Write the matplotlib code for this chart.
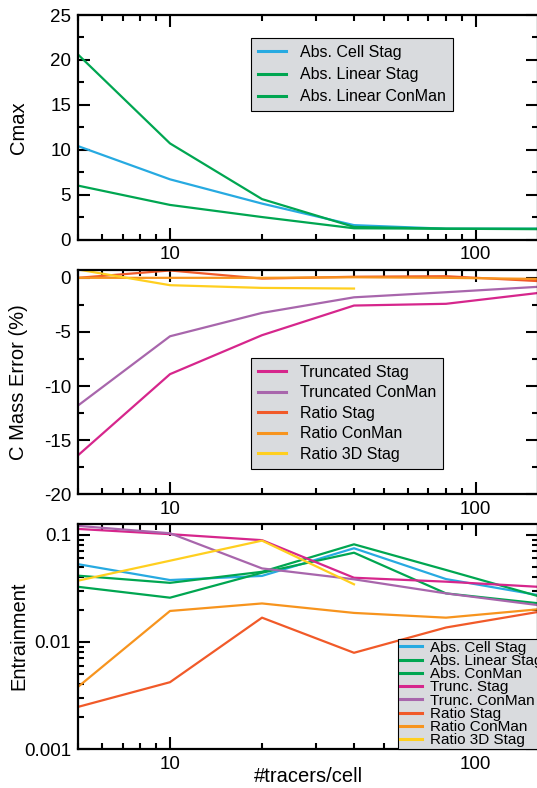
import matplotlib
matplotlib.use('Agg')
import matplotlib.pyplot as plt
from matplotlib.ticker import MultipleLocator, LogLocator, FixedLocator, FuncFormatter, NullFormatter

plt.rcParams['font.family'] = ['Liberation Sans', 'DejaVu Sans']

# tracers per cell
tracers = [5, 10, 20, 40, 80, 160]
tracers_3d = [5, 10, 20, 40]

# top panel: Cmax
cmax_cell_stag = [10.4, 6.7, 4.0, 1.6, 1.2, 1.2]
cmax_lin_stag = [20.6, 10.7, 4.5, 1.4, 1.2, 1.2]
cmax_lin_conman = [6.0, 3.85, 2.5, 1.25, 1.2, 1.15]

# middle panel: C mass error (%)
err_trunc_stag = [-16.4, -8.9, -5.3, -2.56, -2.4, -1.4]
err_trunc_conman = [-11.8, -5.4, -3.24, -1.8, -1.33, -0.83]
err_ratio_stag = [0.0, 0.68, -0.07, 0.1, 0.15, -0.3]
err_ratio_conman = [0.0, 0.0, 0.0, 0.05, 0.0, -0.1]
err_ratio_3d = [0.77, -0.68, -0.93, -0.99]

# bottom panel: entrainment
ent_cell_stag = [0.053, 0.0377, 0.0412, 0.0746, 0.0385, 0.0273]
ent_lin_stag = [0.0414, 0.0355, 0.045, 0.0812, 0.0468, 0.0267]
ent_abs_conman = [0.0326, 0.0258, 0.0441, 0.0678, 0.0283, 0.0229]
ent_trunc_stag = [0.113, 0.101, 0.0888, 0.0396, 0.0364, 0.0326]
ent_trunc_conman = [0.1207, 0.103, 0.0484, 0.0383, 0.0283, 0.022]
ent_ratio_stag = [0.00247, 0.0042, 0.0168, 0.0079, 0.0136, 0.019]
ent_ratio_conman = [0.0038, 0.0194, 0.0228, 0.0186, 0.0168, 0.0201]
ent_ratio_3d = [0.0372, 0.0571, 0.0879, 0.0344]

blue = '#27aae1'
green = '#00a651'
magenta = '#d6268c'
purple = '#a866ac'
red = '#f15a29'
orange = '#f7941e'
yellow = '#ffcf1f'
legend_bg = '#d9dbde'

W, H = 537, 788
fig = plt.figure(figsize=(W / 100, H / 100), dpi=100)

def make_axes(top, bottom):
    return fig.add_axes([78 / W, (H - bottom) / H, (538 - 78) / W, (bottom - top) / H])

ax1 = make_axes(15, 239.5)
ax2 = make_axes(269.5, 494.3)
ax3 = make_axes(523.5, 749)

lw = 1.6
ax1.plot(tracers, cmax_cell_stag, color=blue, lw=lw, label='Abs. Cell Stag')
ax1.plot(tracers, cmax_lin_stag, color=green, lw=lw, label='Abs. Linear Stag')
ax1.plot(tracers, cmax_lin_conman, color=green, lw=lw, label='Abs. Linear ConMan')

ax2.plot(tracers, err_trunc_stag, color=magenta, lw=lw, label='Truncated Stag')
ax2.plot(tracers, err_trunc_conman, color=purple, lw=lw, label='Truncated ConMan')
ax2.plot(tracers, err_ratio_stag, color=red, lw=lw, label='Ratio Stag')
ax2.plot(tracers, err_ratio_conman, color=orange, lw=lw, label='Ratio ConMan')
ax2.plot(tracers_3d, err_ratio_3d, color=yellow, lw=lw, label='Ratio 3D Stag')

ax3.plot(tracers, ent_cell_stag, color=blue, lw=lw, label='Abs. Cell Stag')
ax3.plot(tracers, ent_lin_stag, color=green, lw=lw, label='Abs. Linear Stag')
ax3.plot(tracers, ent_abs_conman, color=green, lw=lw, label='Abs. ConMan')
ax3.plot(tracers, ent_trunc_stag, color=magenta, lw=lw, label='Trunc. Stag')
ax3.plot(tracers, ent_trunc_conman, color=purple, lw=lw, label='Trunc. ConMan')
ax3.plot(tracers, ent_ratio_stag, color=red, lw=lw, label='Ratio Stag')
ax3.plot(tracers, ent_ratio_conman, color=orange, lw=lw, label='Ratio ConMan')
ax3.plot(tracers_3d, ent_ratio_3d, color=yellow, lw=lw, label='Ratio 3D Stag')

for ax in (ax1, ax2, ax3):
    ax.set_xscale('log')
    ax.set_xlim(5, 160)
    ax.xaxis.set_major_locator(FixedLocator([10, 100]))
    ax.xaxis.set_major_formatter(FuncFormatter(lambda v, p: '%g' % v))
    ax.xaxis.set_minor_locator(LogLocator(base=10, subs=range(2, 10)))
    ax.xaxis.set_minor_formatter(NullFormatter())
    ax.tick_params(which='both', direction='in', top=True, right=True, width=1.5,
                   labelsize=13.5, pad=5)
    ax.tick_params(which='major', length=8.5)
    ax.tick_params(which='minor', length=4.3)
    for s in ax.spines.values():
        s.set_linewidth(1.6)

ax1.set_ylim(0, 25)
ax1.yaxis.set_major_locator(MultipleLocator(5))
ax1.yaxis.set_minor_locator(MultipleLocator(2.5))
ax1.set_ylabel('Cmax', fontsize=14.5)

ax2.set_ylim(-20, 0.77)
ax2.yaxis.set_major_locator(MultipleLocator(5))
ax2.yaxis.set_minor_locator(MultipleLocator(2.5))
ax2.yaxis.set_major_formatter(FuncFormatter(lambda v, p: '%d' % v))
ax2.set_ylabel('C Mass Error (%)', fontsize=14.5)

ax3.set_yscale('log')
ax3.set_ylim(0.001, 0.127)
ax3.yaxis.set_major_locator(FixedLocator([0.001, 0.01, 0.1]))
ax3.yaxis.set_major_formatter(FuncFormatter(lambda v, p: '%g' % v))
ax3.yaxis.set_minor_locator(LogLocator(base=10, subs=range(2, 10)))
ax3.yaxis.set_minor_formatter(NullFormatter())
ax3.set_ylabel('Entrainment', fontsize=14.5)
ax3.set_xlabel('#tracers/cell', fontsize=14.5, labelpad=-4)

for ax in (ax1, ax2, ax3):
    ax.yaxis.set_label_coords(-0.108, 0.5)

leg_kw = dict(loc='upper left', fancybox=False, framealpha=1, facecolor=legend_bg,
              edgecolor='black', borderaxespad=0)
l1 = ax1.legend(bbox_to_anchor=(0.376, 0.898), fontsize=11.5, handlelength=1.75,
                handletextpad=0.85, labelspacing=0.44, borderpad=0.45, **leg_kw)
l2 = ax2.legend(bbox_to_anchor=(0.376, 0.607), fontsize=11.5, handlelength=1.75,
                handletextpad=0.85, labelspacing=0.34, borderpad=0.45, **leg_kw)
l3 = ax3.legend(bbox_to_anchor=(0.696, 0.489), fontsize=11, handlelength=1.45,
                handletextpad=0.52, labelspacing=-0.05, borderpad=0.13, **leg_kw)
for l in (l1, l2, l3):
    l.get_frame().set_linewidth(0.8)
    for h in l.get_lines():
        h.set_linewidth(2.2)

fig.savefig('out.png', dpi=100)
